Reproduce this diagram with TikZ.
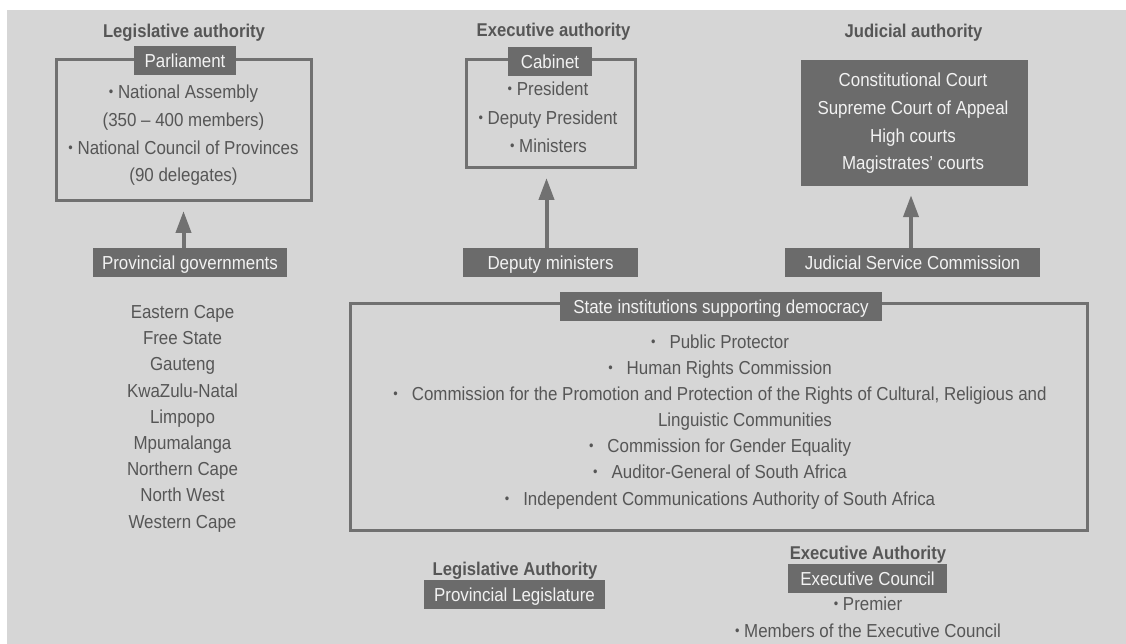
\documentclass[tikz,border=0pt]{standalone}
\usepackage{fontspec}
\setmainfont{Liberation Sans}[FakeStretch=0.9]
\usetikzlibrary{arrows.meta}
\definecolor{bg}{HTML}{D6D6D6}
\definecolor{dk}{HTML}{6B6B6B}
\definecolor{ln}{HTML}{717171}
\definecolor{tx}{HTML}{565656}
\definecolor{wt}{HTML}{F2F2F2}
\newcommand{\bul}{\raisebox{1.8pt}{\scalebox{0.75}{•}}}
\tikzset{
  fnt/.style={font=\fontsize{18.8}{22}\selectfont},
  txt/.style={fnt, text=tx, inner sep=0pt, text height=13.5pt, text depth=0pt},
  ttl/.style={txt, font=\fontsize{18.5}{22}\selectfont\bfseries},
  lbl/.style={fnt, fill=dk, text=wt, inner sep=0pt, text height=13.5pt, text depth=0pt, minimum height=29pt},
  outl/.style={draw=ln, line width=3pt},
  wtxt/.style={txt, text=wt},
  arr/.style={draw=ln, line width=4pt, -{Triangle[length=22pt,width=15pt]}, shorten >=9pt}
}
\begin{document}
\begin{tikzpicture}[x=1pt,y=-1pt]
\useasboundingbox (0,0) rectangle (1126,644);
\fill[white] (0,0) rectangle (1126,644);
\fill[bg] (7,10) rectangle (1126,644);

% ---------- Legislative ----------
\node[ttl] (legT) at (184,31) {Legislative authority};
\node[outl, minimum width=255pt, minimum height=140.5pt, inner sep=0pt] (parl) at (183.5,130.25) {};
\node[lbl, minimum width=102pt] (parlL) at (185,61) {Parliament};
\node[txt] (na1) at (183.5,92) {\bul\ National Assembly};
\node[txt] (na2) at (183.5,120) {(350 – 400 members)};
\node[txt] (nc1) at (183.5,148) {\bul\ National Council of Provinces};
\node[txt] (nc2) at (183.5,175) {(90 delegates)};
\node[lbl, minimum width=194pt] (provgov) at (190,262.5) {Provincial governments};
\draw[arr] (provgov.north -| parl.south) -- (parl.south);
\foreach \p [count=\i] in {Eastern Cape,Free State,Gauteng,KwaZulu-Natal,Limpopo,Mpumalanga,Northern Cape,North West,Western Cape}
  \node[txt] (prov\i) at (182.5,{311.7+26.2*(\i-1)}) {\p};

% ---------- Executive ----------
\node[ttl] (exeT) at (553.5,30) {Executive authority};
\node[outl, minimum width=169pt, minimum height=107.5pt, inner sep=0pt] (cab) at (551,113.75) {};
\node[lbl, minimum width=84pt] (cabL) at (550,61.5) {Cabinet};
\node[txt] (pres) at (548,89) {\bul\ President};
\node[txt] (dpres) at (548,118) {\bul\ Deputy President};
\node[txt] (mins) at (548.5,146) {\bul\ Ministers};
\node[lbl, minimum width=175pt] (depmin) at (550.5,262.5) {Deputy ministers};
\draw[arr] (depmin.north -| 546.5,0) -- (cab.south -| 546.5,0);

% ---------- Judicial ----------
\node[ttl] (judT) at (913.5,31) {Judicial authority};
\node[fill=dk, minimum width=227pt, minimum height=126pt, inner sep=0pt] (courts) at (914.5,123) {};
\node[wtxt] (cc) at (913,80) {Constitutional Court};
\node[wtxt] (sca) at (913,108) {Supreme Court of Appeal};
\node[wtxt] (hc) at (913,136) {High courts};
\node[wtxt] (mc) at (913,163) {Magistrates’ courts};
\node[lbl, minimum width=255pt] (jsc) at (912.5,262.5) {Judicial Service Commission};
\draw[arr] (jsc.north -| 911,0) -- (courts.south -| 911,0);

% ---------- State institutions ----------
\node[outl, minimum width=737pt, minimum height=226.5pt, inner sep=0pt] (state) at (718.5,416.75) {};
\node[lbl, minimum width=322pt] (stateL) at (721,306.5) {State institutions supporting democracy};
\node[txt] (s1) at (720,342) {\bul\hspace{14pt}Public Protector};
\node[txt] (s2) at (720,368) {\bul\hspace{14pt}Human Rights Commission};
\node[txt] (s3) at (720,394) {\bul\hspace{14pt}Commission for the Promotion and Protection of the Rights of Cultural, Religious and};
\node[txt] (s3b) at (745,420) {Linguistic Communities};
\node[txt] (s4) at (720,446) {\bul\hspace{14pt}Commission for Gender Equality};
\node[txt] (s5) at (720,472) {\bul\hspace{14pt}Auditor-General of South Africa};
\node[txt] (s6) at (720,499) {\bul\hspace{14pt}Independent Communications Authority of South Africa};

% ---------- Provincial level ----------
\node[ttl] (plT) at (515,569) {Legislative Authority};
\node[lbl, minimum width=181pt] (plL) at (514.5,594.5) {Provincial Legislature};
\node[ttl] (peT) at (868,552.5) {Executive Authority};
\node[lbl, minimum width=159pt] (peL) at (867.5,578.5) {Executive Council};
\node[txt] (prem) at (868,604) {\bul\ Premier};
\node[txt] (mec) at (868,631) {\bul\ Members of the Executive Council};
\end{tikzpicture}
\end{document}
